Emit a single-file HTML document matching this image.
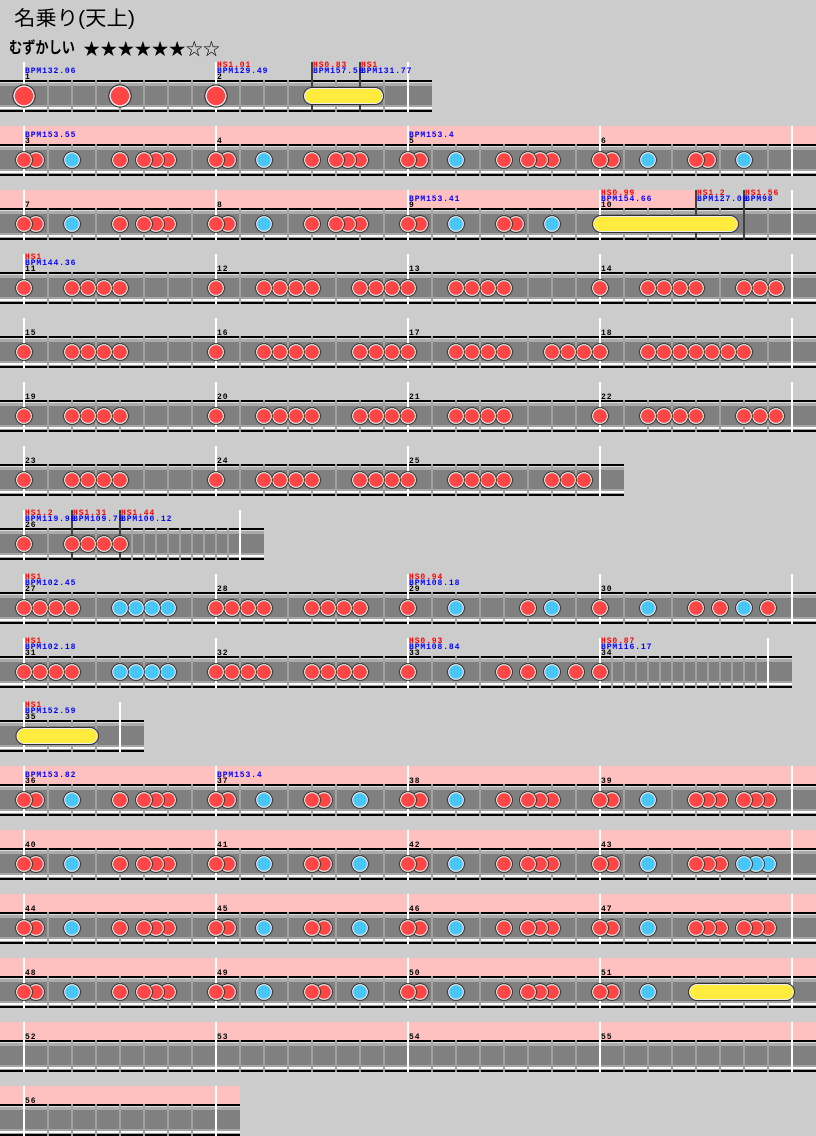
<!DOCTYPE html>
<html><head><meta charset="utf-8"><style>
html,body{margin:0;padding:0;background:#cccccc;}
svg{display:block}
.t{font-family:"Liberation Mono",monospace;font-weight:bold;font-size:8px;letter-spacing:0.9px}
.h{fill:#ff0000}.b{fill:#0000ff}.n{fill:#000}
</style></head><body>
<svg width="816" height="1136" viewBox="0 0 816 1136" xmlns="http://www.w3.org/2000/svg">
<defs>
<pattern id="p24" patternUnits="userSpaceOnUse" x="0" y="0" width="24" height="1200"><rect x="0" y="0" width="1" height="1200" fill="#a2a2a2"/><rect x="23" y="0" width="1" height="1200" fill="#a2a2a2"/></pattern>
<pattern id="p12" patternUnits="userSpaceOnUse" x="0" y="0" width="12" height="1200"><rect x="0" y="0" width="1" height="1200" fill="#a2a2a2"/><rect x="11" y="0" width="1" height="1200" fill="#a2a2a2"/></pattern>
<g id="r"><circle r="8.9" fill="#303030"/><circle r="7.9" fill="#ececec"/><circle r="6.8" fill="#ff4646"/></g>
<g id="u"><circle r="8.9" fill="#303030"/><circle r="7.9" fill="#ececec"/><circle r="6.8" fill="#46c6fa"/></g>
<g id="R"><circle r="11.7" fill="#303030"/><circle r="10.6" fill="#ececec"/><circle r="9.2" fill="#ff4646"/></g>
<g id="lane816"><rect x="0" y="0" width="816" height="32" fill="#000"/><rect x="0" y="2" width="816" height="1" fill="#dedede"/><rect x="0" y="3" width="816" height="3" fill="#ababab"/><rect x="0" y="6" width="816" height="19" fill="#808080"/><rect x="0" y="25" width="816" height="2" fill="#a4a4a4"/><rect x="0" y="27" width="816" height="2" fill="#ffffff"/><rect x="0" y="29" width="816" height="1" fill="#a4a4a4"/></g>
</defs>

<text x="14" y="25" font-family="'Liberation Sans','Noto Sans CJK JP',sans-serif" font-size="20" textLength="121" lengthAdjust="spacingAndGlyphs" fill="#000">名乗り(天上)</text>
<text x="9" y="53" font-family="'Liberation Sans','Noto Sans CJK JP',sans-serif" font-size="16" font-weight="bold" textLength="66" lengthAdjust="spacingAndGlyphs" fill="#000">むずかしい</text>
<text x="83" y="55" font-family="'Noto Sans CJK JP','DejaVu Sans',sans-serif" font-size="17" textLength="137" lengthAdjust="spacingAndGlyphs" fill="#000">★★★★★★☆☆</text>

<!-- Row 1 -->
<g transform="translate(0,80)">
<svg x="0" y="0" width="432" height="32" overflow="hidden"><use href="#lane816"/></svg>
<rect x="36" y="0" width="360" height="32" fill="url(#p24)"/>
<rect x="23" y="-18" width="2" height="50" fill="#fff"/><rect x="215" y="-18" width="2" height="50" fill="#fff"/><rect x="407" y="-18" width="2" height="50" fill="#fff"/>
<rect x="311" y="-18" width="2" height="50" fill="#404040"/><rect x="359" y="-18" width="2" height="50" fill="#404040"/>
<rect x="303" y="7" width="81" height="18" rx="9" fill="#303030"/><rect x="304" y="8" width="79" height="16" rx="8" fill="#ececec"/><rect x="305" y="9" width="77" height="14" rx="7" fill="#ffec3e"/>
<use href="#R" x="216" y="16"/><use href="#R" x="120" y="16"/><use href="#R" x="24" y="16"/>
<text class="t b" x="25" y="-7">BPM132.06</text><text class="t n" x="25" y="-1">1</text>
<text class="t h" x="217" y="-13">HS1.01</text><text class="t b" x="217" y="-7">BPM129.49</text><text class="t n" x="217" y="-1">2</text>
<text class="t h" x="313" y="-13">HS0.83</text><text class="t b" x="313" y="-7">BPM157.58</text>
<text class="t h" x="361" y="-13">HS1</text><text class="t b" x="361" y="-7">BPM131.77</text>
</g>

<!-- Row 2 -->
<g transform="translate(0,144)">
<rect x="0" y="-18" width="816" height="18" fill="#ffc0c0"/>
<use href="#lane816"/>
<rect x="36" y="0" width="744" height="32" fill="url(#p24)"/>
<rect x="23" y="-18" width="2" height="50" fill="#fff"/><rect x="215" y="-18" width="2" height="50" fill="#fff"/><rect x="407" y="-18" width="2" height="50" fill="#fff"/><rect x="599" y="-18" width="2" height="50" fill="#fff"/><rect x="791" y="-18" width="2" height="50" fill="#fff"/>
<use href="#u" x="744" y="16"/><use href="#r" x="708" y="16"/><use href="#r" x="696" y="16"/><use href="#u" x="648" y="16"/><use href="#r" x="612" y="16"/><use href="#r" x="600" y="16"/>
<use href="#r" x="552" y="16"/><use href="#r" x="540" y="16"/><use href="#r" x="528" y="16"/><use href="#r" x="504" y="16"/><use href="#u" x="456" y="16"/><use href="#r" x="420" y="16"/><use href="#r" x="408" y="16"/>
<use href="#r" x="360" y="16"/><use href="#r" x="348" y="16"/><use href="#r" x="336" y="16"/><use href="#r" x="312" y="16"/><use href="#u" x="264" y="16"/><use href="#r" x="228" y="16"/><use href="#r" x="216" y="16"/>
<use href="#r" x="168" y="16"/><use href="#r" x="156" y="16"/><use href="#r" x="144" y="16"/><use href="#r" x="120" y="16"/><use href="#u" x="72" y="16"/><use href="#r" x="36" y="16"/><use href="#r" x="24" y="16"/>
<text class="t b" x="25" y="-7">BPM153.55</text><text class="t n" x="25" y="-1">3</text>
<text class="t n" x="217" y="-1">4</text>
<text class="t b" x="409" y="-7">BPM153.4</text><text class="t n" x="409" y="-1">5</text>
<text class="t n" x="601" y="-1">6</text>
</g>

<!-- Row 3 -->
<g transform="translate(0,208)">
<rect x="0" y="-18" width="696" height="18" fill="#ffc0c0"/>
<use href="#lane816"/>
<rect x="36" y="0" width="744" height="32" fill="url(#p24)"/>
<rect x="23" y="-18" width="2" height="50" fill="#fff"/><rect x="215" y="-18" width="2" height="50" fill="#fff"/><rect x="407" y="-18" width="2" height="50" fill="#fff"/><rect x="599" y="-18" width="2" height="50" fill="#fff"/><rect x="791" y="-18" width="2" height="50" fill="#fff"/>
<rect x="695" y="-18" width="2" height="50" fill="#404040"/><rect x="743" y="-18" width="2" height="50" fill="#404040"/>
<rect x="592" y="7" width="147" height="18" rx="9" fill="#303030"/><rect x="593" y="8" width="145" height="16" rx="8" fill="#ececec"/><rect x="594" y="9" width="143" height="14" rx="7" fill="#ffec3e"/>
<use href="#u" x="552" y="16"/><use href="#r" x="516" y="16"/><use href="#r" x="504" y="16"/><use href="#u" x="456" y="16"/><use href="#r" x="420" y="16"/><use href="#r" x="408" y="16"/>
<use href="#r" x="360" y="16"/><use href="#r" x="348" y="16"/><use href="#r" x="336" y="16"/><use href="#r" x="312" y="16"/><use href="#u" x="264" y="16"/><use href="#r" x="228" y="16"/><use href="#r" x="216" y="16"/>
<use href="#r" x="168" y="16"/><use href="#r" x="156" y="16"/><use href="#r" x="144" y="16"/><use href="#r" x="120" y="16"/><use href="#u" x="72" y="16"/><use href="#r" x="36" y="16"/><use href="#r" x="24" y="16"/>
<text class="t n" x="25" y="-1">7</text>
<text class="t n" x="217" y="-1">8</text>
<text class="t b" x="409" y="-7">BPM153.41</text><text class="t n" x="409" y="-1">9</text>
<text class="t h" x="601" y="-13">HS0.99</text><text class="t b" x="601" y="-7">BPM154.66</text><text class="t n" x="601" y="-1">10</text>
<text class="t h" x="697" y="-13">HS1.2</text><text class="t b" x="697" y="-7">BPM127.08</text>
<text class="t h" x="745" y="-13">HS1.56</text><text class="t b" x="745" y="-7">BPM98</text>
</g>

<!-- Row 4 -->
<g transform="translate(0,272)">
<use href="#lane816"/>
<rect x="36" y="0" width="744" height="32" fill="url(#p24)"/>
<rect x="23" y="-18" width="2" height="50" fill="#fff"/><rect x="215" y="-18" width="2" height="50" fill="#fff"/><rect x="407" y="-18" width="2" height="50" fill="#fff"/><rect x="599" y="-18" width="2" height="50" fill="#fff"/><rect x="791" y="-18" width="2" height="50" fill="#fff"/>
<use href="#r" x="776" y="16"/><use href="#r" x="760" y="16"/><use href="#r" x="744" y="16"/><use href="#r" x="696" y="16"/><use href="#r" x="680" y="16"/><use href="#r" x="664" y="16"/><use href="#r" x="648" y="16"/><use href="#r" x="600" y="16"/>
<use href="#r" x="504" y="16"/><use href="#r" x="488" y="16"/><use href="#r" x="472" y="16"/><use href="#r" x="456" y="16"/><use href="#r" x="408" y="16"/><use href="#r" x="392" y="16"/><use href="#r" x="376" y="16"/><use href="#r" x="360" y="16"/>
<use href="#r" x="312" y="16"/><use href="#r" x="296" y="16"/><use href="#r" x="280" y="16"/><use href="#r" x="264" y="16"/><use href="#r" x="216" y="16"/><use href="#r" x="120" y="16"/><use href="#r" x="104" y="16"/><use href="#r" x="88" y="16"/><use href="#r" x="72" y="16"/><use href="#r" x="24" y="16"/>
<text class="t h" x="25" y="-13">HS1</text><text class="t b" x="25" y="-7">BPM144.36</text><text class="t n" x="25" y="-1">11</text>
<text class="t n" x="217" y="-1">12</text><text class="t n" x="409" y="-1">13</text><text class="t n" x="601" y="-1">14</text>
</g>

<!-- Row 5 -->
<g transform="translate(0,336)">
<use href="#lane816"/>
<rect x="36" y="0" width="744" height="32" fill="url(#p24)"/>
<rect x="23" y="-18" width="2" height="50" fill="#fff"/><rect x="215" y="-18" width="2" height="50" fill="#fff"/><rect x="407" y="-18" width="2" height="50" fill="#fff"/><rect x="599" y="-18" width="2" height="50" fill="#fff"/><rect x="791" y="-18" width="2" height="50" fill="#fff"/>
<use href="#r" x="744" y="16"/><use href="#r" x="728" y="16"/><use href="#r" x="712" y="16"/><use href="#r" x="696" y="16"/><use href="#r" x="680" y="16"/><use href="#r" x="664" y="16"/><use href="#r" x="648" y="16"/><use href="#r" x="600" y="16"/>
<use href="#r" x="584" y="16"/><use href="#r" x="568" y="16"/><use href="#r" x="552" y="16"/><use href="#r" x="504" y="16"/><use href="#r" x="488" y="16"/><use href="#r" x="472" y="16"/><use href="#r" x="456" y="16"/><use href="#r" x="408" y="16"/><use href="#r" x="392" y="16"/><use href="#r" x="376" y="16"/><use href="#r" x="360" y="16"/>
<use href="#r" x="312" y="16"/><use href="#r" x="296" y="16"/><use href="#r" x="280" y="16"/><use href="#r" x="264" y="16"/><use href="#r" x="216" y="16"/><use href="#r" x="120" y="16"/><use href="#r" x="104" y="16"/><use href="#r" x="88" y="16"/><use href="#r" x="72" y="16"/><use href="#r" x="24" y="16"/>
<text class="t n" x="25" y="-1">15</text><text class="t n" x="217" y="-1">16</text><text class="t n" x="409" y="-1">17</text><text class="t n" x="601" y="-1">18</text>
</g>

<!-- Row 6 -->
<g transform="translate(0,400)">
<use href="#lane816"/>
<rect x="36" y="0" width="744" height="32" fill="url(#p24)"/>
<rect x="23" y="-18" width="2" height="50" fill="#fff"/><rect x="215" y="-18" width="2" height="50" fill="#fff"/><rect x="407" y="-18" width="2" height="50" fill="#fff"/><rect x="599" y="-18" width="2" height="50" fill="#fff"/><rect x="791" y="-18" width="2" height="50" fill="#fff"/>
<use href="#r" x="776" y="16"/><use href="#r" x="760" y="16"/><use href="#r" x="744" y="16"/><use href="#r" x="696" y="16"/><use href="#r" x="680" y="16"/><use href="#r" x="664" y="16"/><use href="#r" x="648" y="16"/><use href="#r" x="600" y="16"/>
<use href="#r" x="504" y="16"/><use href="#r" x="488" y="16"/><use href="#r" x="472" y="16"/><use href="#r" x="456" y="16"/><use href="#r" x="408" y="16"/><use href="#r" x="392" y="16"/><use href="#r" x="376" y="16"/><use href="#r" x="360" y="16"/>
<use href="#r" x="312" y="16"/><use href="#r" x="296" y="16"/><use href="#r" x="280" y="16"/><use href="#r" x="264" y="16"/><use href="#r" x="216" y="16"/><use href="#r" x="120" y="16"/><use href="#r" x="104" y="16"/><use href="#r" x="88" y="16"/><use href="#r" x="72" y="16"/><use href="#r" x="24" y="16"/>
<text class="t n" x="25" y="-1">19</text><text class="t n" x="217" y="-1">20</text><text class="t n" x="409" y="-1">21</text><text class="t n" x="601" y="-1">22</text>
</g>

<!-- Row 7 -->
<g transform="translate(0,464)">
<svg x="0" y="0" width="624" height="32" overflow="hidden"><use href="#lane816"/></svg>
<rect x="36" y="0" width="552" height="32" fill="url(#p24)"/>
<rect x="23" y="-18" width="2" height="50" fill="#fff"/><rect x="215" y="-18" width="2" height="50" fill="#fff"/><rect x="407" y="-18" width="2" height="50" fill="#fff"/><rect x="599" y="-18" width="2" height="50" fill="#fff"/>
<use href="#r" x="584" y="16"/><use href="#r" x="568" y="16"/><use href="#r" x="552" y="16"/><use href="#r" x="504" y="16"/><use href="#r" x="488" y="16"/><use href="#r" x="472" y="16"/><use href="#r" x="456" y="16"/><use href="#r" x="408" y="16"/><use href="#r" x="392" y="16"/><use href="#r" x="376" y="16"/><use href="#r" x="360" y="16"/>
<use href="#r" x="312" y="16"/><use href="#r" x="296" y="16"/><use href="#r" x="280" y="16"/><use href="#r" x="264" y="16"/><use href="#r" x="216" y="16"/><use href="#r" x="120" y="16"/><use href="#r" x="104" y="16"/><use href="#r" x="88" y="16"/><use href="#r" x="72" y="16"/><use href="#r" x="24" y="16"/>
<text class="t n" x="25" y="-1">23</text><text class="t n" x="217" y="-1">24</text><text class="t n" x="409" y="-1">25</text>
</g>

<!-- Row 8 -->
<g transform="translate(0,528)">
<svg x="0" y="0" width="264" height="32" overflow="hidden"><use href="#lane816"/></svg>
<rect x="36" y="0" width="72" height="32" fill="url(#p24)"/>
<rect x="126" y="0" width="108" height="32" fill="url(#p12)"/>
<rect x="23" y="-18" width="2" height="50" fill="#fff"/><rect x="239" y="-18" width="2" height="50" fill="#fff"/>
<rect x="71" y="-18" width="2" height="50" fill="#404040"/><rect x="119" y="-18" width="2" height="50" fill="#404040"/>
<use href="#r" x="120" y="16"/><use href="#r" x="104" y="16"/><use href="#r" x="88" y="16"/><use href="#r" x="72" y="16"/><use href="#r" x="24" y="16"/>
<text class="t h" x="25" y="-13">HS1.2</text><text class="t b" x="25" y="-7">BPM119.98</text><text class="t n" x="25" y="-1">26</text>
<text class="t h" x="73" y="-13">HS1.31</text><text class="t b" x="73" y="-7">BPM109.78</text>
<text class="t h" x="121" y="-13">HS1.44</text><text class="t b" x="121" y="-7">BPM100.12</text>
</g>

<!-- Row 9 -->
<g transform="translate(0,592)">
<use href="#lane816"/>
<rect x="36" y="0" width="744" height="32" fill="url(#p24)"/>
<rect x="23" y="-18" width="2" height="50" fill="#fff"/><rect x="215" y="-18" width="2" height="50" fill="#fff"/><rect x="407" y="-18" width="2" height="50" fill="#fff"/><rect x="599" y="-18" width="2" height="50" fill="#fff"/><rect x="791" y="-18" width="2" height="50" fill="#fff"/>
<use href="#r" x="768" y="16"/><use href="#u" x="744" y="16"/><use href="#r" x="720" y="16"/><use href="#r" x="696" y="16"/><use href="#u" x="648" y="16"/><use href="#r" x="600" y="16"/>
<use href="#u" x="552" y="16"/><use href="#r" x="528" y="16"/><use href="#u" x="456" y="16"/><use href="#r" x="408" y="16"/>
<use href="#r" x="360" y="16"/><use href="#r" x="344" y="16"/><use href="#r" x="328" y="16"/><use href="#r" x="312" y="16"/><use href="#r" x="264" y="16"/><use href="#r" x="248" y="16"/><use href="#r" x="232" y="16"/><use href="#r" x="216" y="16"/>
<use href="#u" x="168" y="16"/><use href="#u" x="152" y="16"/><use href="#u" x="136" y="16"/><use href="#u" x="120" y="16"/><use href="#r" x="72" y="16"/><use href="#r" x="56" y="16"/><use href="#r" x="40" y="16"/><use href="#r" x="24" y="16"/>
<text class="t h" x="25" y="-13">HS1</text><text class="t b" x="25" y="-7">BPM102.45</text><text class="t n" x="25" y="-1">27</text>
<text class="t n" x="217" y="-1">28</text>
<text class="t h" x="409" y="-13">HS0.94</text><text class="t b" x="409" y="-7">BPM108.18</text><text class="t n" x="409" y="-1">29</text>
<text class="t n" x="601" y="-1">30</text>
</g>

<!-- Row 10 -->
<g transform="translate(0,656)">
<svg x="0" y="0" width="792" height="32" overflow="hidden"><use href="#lane816"/></svg>
<rect x="36" y="0" width="552" height="32" fill="url(#p24)"/>
<rect x="606" y="0" width="156" height="32" fill="url(#p12)"/>
<rect x="23" y="-18" width="2" height="50" fill="#fff"/><rect x="215" y="-18" width="2" height="50" fill="#fff"/><rect x="407" y="-18" width="2" height="50" fill="#fff"/><rect x="599" y="-18" width="2" height="50" fill="#fff"/><rect x="767" y="-18" width="2" height="50" fill="#fff"/>
<use href="#r" x="600" y="16"/><use href="#r" x="576" y="16"/><use href="#u" x="552" y="16"/><use href="#r" x="528" y="16"/><use href="#r" x="504" y="16"/><use href="#u" x="456" y="16"/><use href="#r" x="408" y="16"/>
<use href="#r" x="360" y="16"/><use href="#r" x="344" y="16"/><use href="#r" x="328" y="16"/><use href="#r" x="312" y="16"/><use href="#r" x="264" y="16"/><use href="#r" x="248" y="16"/><use href="#r" x="232" y="16"/><use href="#r" x="216" y="16"/>
<use href="#u" x="168" y="16"/><use href="#u" x="152" y="16"/><use href="#u" x="136" y="16"/><use href="#u" x="120" y="16"/><use href="#r" x="72" y="16"/><use href="#r" x="56" y="16"/><use href="#r" x="40" y="16"/><use href="#r" x="24" y="16"/>
<text class="t h" x="25" y="-13">HS1</text><text class="t b" x="25" y="-7">BPM102.18</text><text class="t n" x="25" y="-1">31</text>
<text class="t n" x="217" y="-1">32</text>
<text class="t h" x="409" y="-13">HS0.93</text><text class="t b" x="409" y="-7">BPM108.84</text><text class="t n" x="409" y="-1">33</text>
<text class="t h" x="601" y="-13">HS0.87</text><text class="t b" x="601" y="-7">BPM116.17</text><text class="t n" x="601" y="-1">34</text>
</g>

<!-- Row 11 -->
<g transform="translate(0,720)">
<svg x="0" y="0" width="144" height="32" overflow="hidden"><use href="#lane816"/></svg>
<rect x="36" y="0" width="72" height="32" fill="url(#p24)"/>
<rect x="23" y="-18" width="2" height="50" fill="#fff"/><rect x="119" y="-18" width="2" height="50" fill="#fff"/>
<rect x="15.5" y="7" width="83.5" height="18" rx="9" fill="#303030"/><rect x="16.5" y="8" width="81.5" height="16" rx="8" fill="#ececec"/><rect x="17.5" y="9" width="79.5" height="14" rx="7" fill="#ffec3e"/>
<text class="t h" x="25" y="-13">HS1</text><text class="t b" x="25" y="-7">BPM152.59</text><text class="t n" x="25" y="-1">35</text>
</g>

<!-- Row 12 -->
<g transform="translate(0,784)">
<rect x="0" y="-18" width="816" height="18" fill="#ffc0c0"/>
<use href="#lane816"/>
<rect x="36" y="0" width="744" height="32" fill="url(#p24)"/>
<rect x="23" y="-18" width="2" height="50" fill="#fff"/><rect x="215" y="-18" width="2" height="50" fill="#fff"/><rect x="407" y="-18" width="2" height="50" fill="#fff"/><rect x="599" y="-18" width="2" height="50" fill="#fff"/><rect x="791" y="-18" width="2" height="50" fill="#fff"/>
<use href="#r" x="768" y="16"/><use href="#r" x="756" y="16"/><use href="#r" x="744" y="16"/><use href="#r" x="720" y="16"/><use href="#r" x="708" y="16"/><use href="#r" x="696" y="16"/><use href="#u" x="648" y="16"/><use href="#r" x="612" y="16"/><use href="#r" x="600" y="16"/>
<use href="#r" x="552" y="16"/><use href="#r" x="540" y="16"/><use href="#r" x="528" y="16"/><use href="#r" x="504" y="16"/><use href="#u" x="456" y="16"/><use href="#r" x="420" y="16"/><use href="#r" x="408" y="16"/>
<use href="#u" x="360" y="16"/><use href="#r" x="324" y="16"/><use href="#r" x="312" y="16"/><use href="#u" x="264" y="16"/><use href="#r" x="228" y="16"/><use href="#r" x="216" y="16"/>
<use href="#r" x="168" y="16"/><use href="#r" x="156" y="16"/><use href="#r" x="144" y="16"/><use href="#r" x="120" y="16"/><use href="#u" x="72" y="16"/><use href="#r" x="36" y="16"/><use href="#r" x="24" y="16"/>
<text class="t b" x="25" y="-7">BPM153.82</text><text class="t n" x="25" y="-1">36</text>
<text class="t b" x="217" y="-7">BPM153.4</text><text class="t n" x="217" y="-1">37</text>
<text class="t n" x="409" y="-1">38</text><text class="t n" x="601" y="-1">39</text>
</g>

<!-- Row 13 -->
<g transform="translate(0,848)">
<rect x="0" y="-18" width="816" height="18" fill="#ffc0c0"/>
<use href="#lane816"/>
<rect x="36" y="0" width="744" height="32" fill="url(#p24)"/>
<rect x="23" y="-18" width="2" height="50" fill="#fff"/><rect x="215" y="-18" width="2" height="50" fill="#fff"/><rect x="407" y="-18" width="2" height="50" fill="#fff"/><rect x="599" y="-18" width="2" height="50" fill="#fff"/><rect x="791" y="-18" width="2" height="50" fill="#fff"/>
<use href="#u" x="768" y="16"/><use href="#u" x="756" y="16"/><use href="#u" x="744" y="16"/><use href="#r" x="720" y="16"/><use href="#r" x="708" y="16"/><use href="#r" x="696" y="16"/><use href="#u" x="648" y="16"/><use href="#r" x="612" y="16"/><use href="#r" x="600" y="16"/>
<use href="#r" x="552" y="16"/><use href="#r" x="540" y="16"/><use href="#r" x="528" y="16"/><use href="#r" x="504" y="16"/><use href="#u" x="456" y="16"/><use href="#r" x="420" y="16"/><use href="#r" x="408" y="16"/>
<use href="#u" x="360" y="16"/><use href="#r" x="324" y="16"/><use href="#r" x="312" y="16"/><use href="#u" x="264" y="16"/><use href="#r" x="228" y="16"/><use href="#r" x="216" y="16"/>
<use href="#r" x="168" y="16"/><use href="#r" x="156" y="16"/><use href="#r" x="144" y="16"/><use href="#r" x="120" y="16"/><use href="#u" x="72" y="16"/><use href="#r" x="36" y="16"/><use href="#r" x="24" y="16"/>
<text class="t n" x="25" y="-1">40</text><text class="t n" x="217" y="-1">41</text><text class="t n" x="409" y="-1">42</text><text class="t n" x="601" y="-1">43</text>
</g>

<!-- Row 14 -->
<g transform="translate(0,912)">
<rect x="0" y="-18" width="816" height="18" fill="#ffc0c0"/>
<use href="#lane816"/>
<rect x="36" y="0" width="744" height="32" fill="url(#p24)"/>
<rect x="23" y="-18" width="2" height="50" fill="#fff"/><rect x="215" y="-18" width="2" height="50" fill="#fff"/><rect x="407" y="-18" width="2" height="50" fill="#fff"/><rect x="599" y="-18" width="2" height="50" fill="#fff"/><rect x="791" y="-18" width="2" height="50" fill="#fff"/>
<use href="#r" x="768" y="16"/><use href="#r" x="756" y="16"/><use href="#r" x="744" y="16"/><use href="#r" x="720" y="16"/><use href="#r" x="708" y="16"/><use href="#r" x="696" y="16"/><use href="#u" x="648" y="16"/><use href="#r" x="612" y="16"/><use href="#r" x="600" y="16"/>
<use href="#r" x="552" y="16"/><use href="#r" x="540" y="16"/><use href="#r" x="528" y="16"/><use href="#r" x="504" y="16"/><use href="#u" x="456" y="16"/><use href="#r" x="420" y="16"/><use href="#r" x="408" y="16"/>
<use href="#u" x="360" y="16"/><use href="#r" x="324" y="16"/><use href="#r" x="312" y="16"/><use href="#u" x="264" y="16"/><use href="#r" x="228" y="16"/><use href="#r" x="216" y="16"/>
<use href="#r" x="168" y="16"/><use href="#r" x="156" y="16"/><use href="#r" x="144" y="16"/><use href="#r" x="120" y="16"/><use href="#u" x="72" y="16"/><use href="#r" x="36" y="16"/><use href="#r" x="24" y="16"/>
<text class="t n" x="25" y="-1">44</text><text class="t n" x="217" y="-1">45</text><text class="t n" x="409" y="-1">46</text><text class="t n" x="601" y="-1">47</text>
</g>

<!-- Row 15 -->
<g transform="translate(0,976)">
<rect x="0" y="-18" width="816" height="18" fill="#ffc0c0"/>
<use href="#lane816"/>
<rect x="36" y="0" width="744" height="32" fill="url(#p24)"/>
<rect x="23" y="-18" width="2" height="50" fill="#fff"/><rect x="215" y="-18" width="2" height="50" fill="#fff"/><rect x="407" y="-18" width="2" height="50" fill="#fff"/><rect x="599" y="-18" width="2" height="50" fill="#fff"/><rect x="791" y="-18" width="2" height="50" fill="#fff"/>
<rect x="688" y="7" width="107" height="18" rx="9" fill="#303030"/><rect x="689" y="8" width="105" height="16" rx="8" fill="#ececec"/><rect x="690" y="9" width="103" height="14" rx="7" fill="#ffec3e"/>
<use href="#u" x="648" y="16"/><use href="#r" x="612" y="16"/><use href="#r" x="600" y="16"/>
<use href="#r" x="552" y="16"/><use href="#r" x="540" y="16"/><use href="#r" x="528" y="16"/><use href="#r" x="504" y="16"/><use href="#u" x="456" y="16"/><use href="#r" x="420" y="16"/><use href="#r" x="408" y="16"/>
<use href="#u" x="360" y="16"/><use href="#r" x="324" y="16"/><use href="#r" x="312" y="16"/><use href="#u" x="264" y="16"/><use href="#r" x="228" y="16"/><use href="#r" x="216" y="16"/>
<use href="#r" x="168" y="16"/><use href="#r" x="156" y="16"/><use href="#r" x="144" y="16"/><use href="#r" x="120" y="16"/><use href="#u" x="72" y="16"/><use href="#r" x="36" y="16"/><use href="#r" x="24" y="16"/>
<text class="t n" x="25" y="-1">48</text><text class="t n" x="217" y="-1">49</text><text class="t n" x="409" y="-1">50</text><text class="t n" x="601" y="-1">51</text>
</g>

<!-- Row 16 -->
<g transform="translate(0,1040)">
<rect x="0" y="-18" width="816" height="18" fill="#ffc0c0"/>
<use href="#lane816"/>
<rect x="36" y="0" width="744" height="32" fill="url(#p24)"/>
<rect x="23" y="-18" width="2" height="50" fill="#fff"/><rect x="215" y="-18" width="2" height="50" fill="#fff"/><rect x="407" y="-18" width="2" height="50" fill="#fff"/><rect x="599" y="-18" width="2" height="50" fill="#fff"/><rect x="791" y="-18" width="2" height="50" fill="#fff"/>
<text class="t n" x="25" y="-1">52</text><text class="t n" x="217" y="-1">53</text><text class="t n" x="409" y="-1">54</text><text class="t n" x="601" y="-1">55</text>
</g>

<!-- Row 17 -->
<g transform="translate(0,1104)">
<rect x="0" y="-18" width="240" height="18" fill="#ffc0c0"/>
<svg x="0" y="0" width="240" height="32" overflow="hidden"><use href="#lane816"/></svg>
<rect x="36" y="0" width="168" height="32" fill="url(#p24)"/>
<rect x="23" y="-18" width="2" height="50" fill="#fff"/><rect x="215" y="-18" width="2" height="50" fill="#fff"/>
<text class="t n" x="25" y="-1">56</text>
</g>
</svg>
</body></html>
